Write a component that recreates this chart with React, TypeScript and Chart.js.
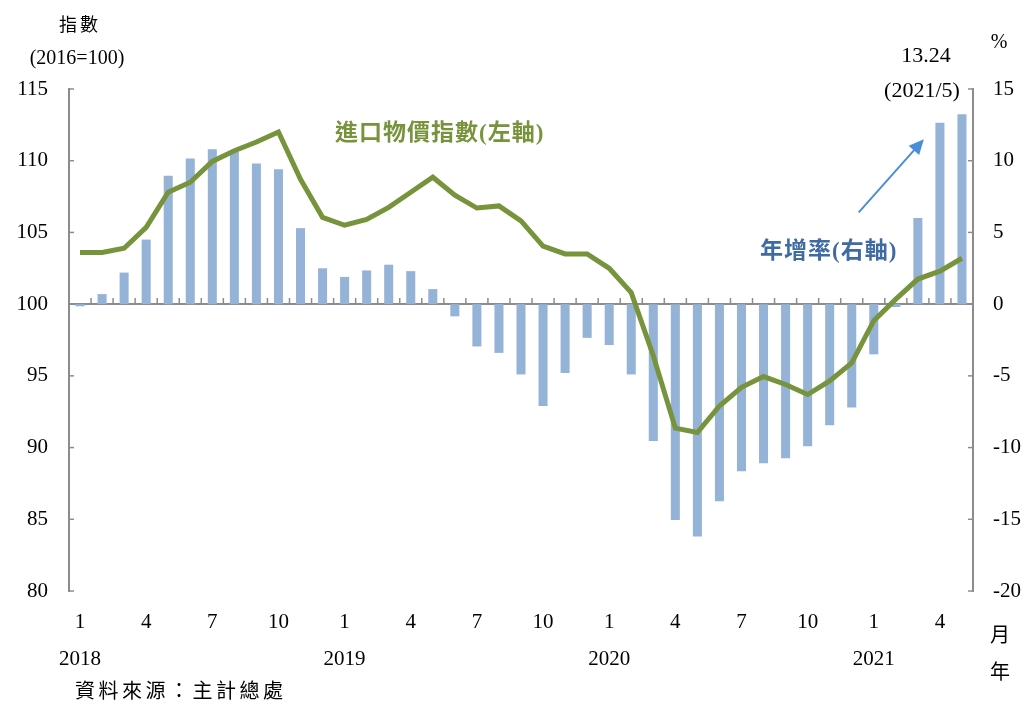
import React, { useEffect, useRef } from "react";
import { Chart, registerables } from "chart.js";

Chart.register(...registerables);

const categories = [
  "2018/1","2018/2","2018/3","2018/4","2018/5","2018/6","2018/7","2018/8","2018/9","2018/10","2018/11","2018/12",
  "2019/1","2019/2","2019/3","2019/4","2019/5","2019/6","2019/7","2019/8","2019/9","2019/10","2019/11","2019/12",
  "2020/1","2020/2","2020/3","2020/4","2020/5","2020/6","2020/7","2020/8","2020/9","2020/10","2020/11","2020/12",
  "2021/1","2021/2","2021/3","2021/4","2021/5",
];

// 年增率 (%), right axis
const yoyRate = [
  -0.15, 0.7, 2.2, 4.5, 8.95, 10.15, 10.8, 10.6, 9.8, 9.4, 5.3, 2.5,
  1.9, 2.35, 2.75, 2.3, 1.05, -0.85, -2.95, -3.4, -4.9, -7.1, -4.8, -2.35,
  -2.85, -4.9, -9.55, -15.05, -16.2, -13.75, -11.65, -11.1, -10.75, -9.9, -8.45, -7.2,
  -3.5, -0.2, 6.0, 12.65, 13.24,
];

// 進口物價指數 (2016=100), left axis
const importIndex = [
  103.6, 103.6, 103.9, 105.35, 107.8, 108.5, 109.95, 110.7, 111.3, 112.0, 108.7, 106.05,
  105.5, 105.9, 106.75, 107.8, 108.85, 107.6, 106.7, 106.85, 105.8, 104.05, 103.5, 103.5,
  102.5, 100.8, 96.4, 91.35, 91.05, 92.9, 94.2, 94.95, 94.4, 93.7, 94.65, 95.9,
  98.85, 100.35, 101.75, 102.3, 103.2,
];

const shownMonths = ["1", "4", "7", "10"];
const leftTicks = { min: 80, max: 115, step: 5 };
const rightTicks = { min: -20, max: 15, step: 5 };

const SERIF = "'Liberation Serif', 'Times New Roman', serif";
const CJK = "'Liberation Serif', 'Noto Sans CJK TC', serif";
const AXIS = "#8c8c8c";
const BAR = "#95b3d7";
const GREEN = "#77933c";
const BLUE = "#3f6ba3";

const decorPlugin = {
  id: "decor",
  beforeDatasetsDraw(chart: any) {
    const { ctx, chartArea, scales } = chart;
    const yL = scales.y;
    const yR = scales.y1;
    const x = scales.x;
    ctx.save();
    ctx.strokeStyle = AXIS;
    ctx.lineWidth = 2;
    // zero line
    const zy = Math.round(yR.getPixelForValue(0));
    ctx.beginPath();
    ctx.moveTo(chartArea.left, zy);
    ctx.lineTo(chartArea.right, zy);
    ctx.stroke();
    // category boundary ticks on zero line
    ctx.lineWidth = 1.5;
    for (let i = 0; i < categories.length; i++) {
      const px = x.getPixelForValue(i) + (x.getPixelForValue(1) - x.getPixelForValue(0)) / 2;
      if (px >= chartArea.right - 1) continue;
      ctx.beginPath();
      ctx.moveTo(px, zy);
      ctx.lineTo(px, zy - 6);
      ctx.stroke();
    }
    // inside ticks on left/right axes
    for (let v = leftTicks.min; v <= leftTicks.max; v += leftTicks.step) {
      const py = yL.getPixelForValue(v);
      ctx.beginPath();
      ctx.moveTo(chartArea.left, py);
      ctx.lineTo(chartArea.left + 5, py);
      ctx.stroke();
    }
    for (let v = rightTicks.min; v <= rightTicks.max; v += rightTicks.step) {
      const py = yR.getPixelForValue(v);
      ctx.beginPath();
      ctx.moveTo(chartArea.right, py);
      ctx.lineTo(chartArea.right - 5, py);
      ctx.stroke();
    }
    ctx.restore();
  },
  afterDraw(chart: any) {
    const { ctx, scales } = chart;
    const x = scales.x;
    const yR = scales.y1;
    ctx.save();
    ctx.fillStyle = "#000";
    ctx.textAlign = "center";
    ctx.textBaseline = "middle";
    ctx.font = `18px 'Noto Sans CJK TC', serif`;
    (ctx as any).letterSpacing = "3px";
    ctx.fillText("指數", 80, 24);
    (ctx as any).letterSpacing = "0px";
    ctx.font = `20px ${SERIF}`;
    ctx.fillText("(2016=100)", 77, 59);
    ctx.fillText("%", 999, 43);

    const last = categories.length - 1;
    const lx = x.getPixelForValue(last) - 36;
    ctx.font = `22px ${SERIF}`;
    ctx.fillText(String(yoyRate[last]), lx, 56);
    ctx.fillText("(" + categories[last] + ")", lx - 4, 91);

    // arrow
    const tx = x.getPixelForValue(last - 2) + 6;
    const ty = yR.getPixelForValue(11.5);
    const fx = x.getPixelForValue(last - 5) + 7;
    const fy = yR.getPixelForValue(6.4);
    ctx.strokeStyle = "#4a8ed8";
    ctx.fillStyle = "#4a8ed8";
    ctx.lineWidth = 2;
    const ang = Math.atan2(ty - fy, tx - fx);
    ctx.beginPath();
    ctx.moveTo(fx, fy);
    ctx.lineTo(tx - Math.cos(ang) * 10, ty - Math.sin(ang) * 10);
    ctx.stroke();
    ctx.beginPath();
    ctx.moveTo(tx, ty);
    ctx.lineTo(tx - Math.cos(ang) * 15 + Math.sin(ang) * 7, ty - Math.sin(ang) * 15 - Math.cos(ang) * 7);
    ctx.lineTo(tx - Math.cos(ang) * 15 - Math.sin(ang) * 7, ty - Math.sin(ang) * 15 + Math.cos(ang) * 7);
    ctx.closePath();
    ctx.fill();

    // series labels
    ctx.textAlign = "left";
    ctx.font = `bold 23px ${CJK}`;
    (ctx as any).letterSpacing = "1px";
    ctx.fillStyle = GREEN;
    ctx.fillText("進口物價指數(左軸)", 335, 134);
    ctx.fillStyle = BLUE;
    ctx.fillText("年增率(右軸)", 760, 252);
    (ctx as any).letterSpacing = "0px";

    // unit labels under right axis
    ctx.fillStyle = "#000";
    ctx.textAlign = "center";
    ctx.font = `20px 'Noto Sans CJK TC', serif`;
    ctx.fillText("月", 1000, 634);
    ctx.fillText("年", 1000, 671);

    // source
    ctx.textAlign = "left";
    ctx.font = `20px 'Noto Sans CJK TC', serif`;
    (ctx as any).letterSpacing = "3.5px";
    ctx.fillText("資料來源：主計總處", 75, 690);
    ctx.restore();
  },
};

export default function App() {
  const ref = useRef<HTMLCanvasElement | null>(null);
  useEffect(() => {
    if (!ref.current) return;
    const chart = new Chart(ref.current, {
      type: "bar",
      data: {
        labels: categories,
        datasets: [
          {
            type: "line",
            label: "進口物價指數(左軸)",
            data: importIndex,
            yAxisID: "y",
            borderColor: GREEN,
            borderWidth: 5,
            pointRadius: 0,
            tension: 0,
            order: 0,
          } as any,
          {
            type: "bar",
            label: "年增率(右軸)",
            data: yoyRate,
            yAxisID: "y1",
            backgroundColor: BAR,
            barPercentage: 0.41,
            categoryPercentage: 1,
            order: 1,
          },
        ],
      },
      options: {
        responsive: false,
        animation: false,
        layout: { padding: { top: 89, left: 0, right: 0, bottom: 0 } },
        plugins: { legend: { display: false }, tooltip: { enabled: false } },
        scales: {
          x: {
            grid: { display: false, drawTicks: false },
            border: { display: false },
            ticks: {
              autoSkip: false,
              maxRotation: 0,
              padding: 13,
              color: "#000",
              font: { family: SERIF, size: 21, lineHeight: 1.75 },
              callback: (_v: any, i: number) => {
                const [yr, m] = categories[i].split("/");
                if (!shownMonths.includes(m)) return "";
                return m === "1" ? [m, yr] : [m, ""];
              },
            },
            afterFit: (s: any) => {
              s.height = 115;
            },
          },
          y: {
            position: "left",
            min: leftTicks.min,
            max: leftTicks.max,
            grid: { display: false, drawTicks: false },
            border: { display: true, color: AXIS, width: 2 },
            ticks: {
              stepSize: leftTicks.step,
              padding: 21,
              color: "#000",
              font: { family: SERIF, size: 21 },
            },
            afterFit: (s: any) => {
              s.width = 69;
            },
          },
          y1: {
            position: "right",
            min: rightTicks.min,
            max: rightTicks.max,
            grid: { display: false, drawTicks: false },
            border: { display: true, color: AXIS, width: 2 },
            ticks: {
              stepSize: rightTicks.step,
              padding: 20,
              color: "#000",
              font: { family: SERIF, size: 21 },
            },
            afterFit: (s: any) => {
              s.width = 53;
            },
          },
        },
      },
      plugins: [decorPlugin],
    });
    return () => chart.destroy();
  }, []);
  return (
    <div style={{ position: "absolute", left: 0, top: 0, width: 1026, height: 706, background: "#fff" }}>
      <canvas ref={ref} width={1026} height={706} />
    </div>
  );
}
